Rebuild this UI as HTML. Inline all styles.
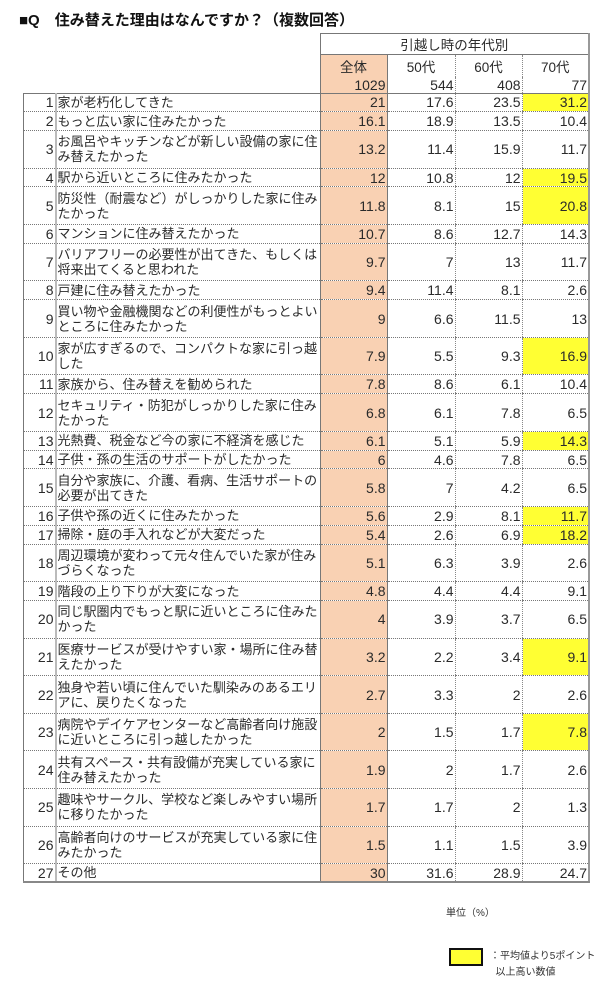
<!DOCTYPE html>
<html><head><meta charset="utf-8"><style>
body{margin:0;width:612px;height:1000px;background:#fff;position:relative;font-family:"Liberation Sans","Noto Sans CJK JP",sans-serif;color:#2a2a2a;}
.title{position:absolute;left:19px;top:9px;font-size:15px;font-weight:bold;color:#111;}
table{position:absolute;left:23px;top:33px;border-collapse:collapse;table-layout:fixed;font-size:12.6px;}
td{padding:0 2px;overflow:hidden;white-space:nowrap;}
.n{width:28px;text-align:right;vertical-align:middle;border-left:1px solid #777;padding:0 1px 0 0;font-size:14px;}
.t{width:260px;text-align:left;line-height:15px;border-left:2px solid #bbb;padding-left:1px;vertical-align:middle;font-size:13px;}
.v{text-align:right;vertical-align:middle;border-left:1px dotted #888;padding:0 1px 0 0;line-height:16px;font-size:14px;}
.h{text-align:center;font-size:13.5px;}
.a{background:#f9d1b3;border-left:1px solid #777;border-right:1px solid #777;}
.l{border-right:2px solid #999;}
.y{background:#ffff33;}
tbody tr td{border-bottom:1px dotted #777;}
tbody tr.s{height:18.8px;}
tbody tr.d{height:37.6px;}
.last td{border-bottom:2px solid #888 !important;}
</style></head><body>
<div class="title">■Q　住み替えた理由はなんですか？（複数回答）</div>
<table>
<colgroup><col style="width:32px"><col style="width:264px"><col style="width:67px"><col style="width:68px"><col style="width:67px"><col style="width:67px"></colgroup>
<thead>
<tr style="height:19px"><td></td><td></td><td colspan="4" class="h" style="border:1px solid #777;border-right:2px solid #999;">引越し時の年代別</td></tr>
<tr style="height:22px"><td></td><td></td><td class="a h" style="border-top:1px solid #777;">全体</td><td class="h" style="border-top:1px solid #777;border-left:1px dotted #888;">50代</td><td class="h" style="border-top:1px solid #777;border-left:1px dotted #888;">60代</td><td class="l h" style="border-top:1px solid #777;border-left:1px dotted #888;">70代</td></tr>
<tr style="height:16px"><td></td><td></td><td class="v a">1029</td><td class="v">544</td><td class="v">408</td><td class="v l">77</td></tr>
</thead>
<tbody>
<tr class="s" style="border-top:1px solid #777"><td class="n">1</td><td class="t">家が老朽化してきた</td><td class="v a">21</td><td class="v">17.6</td><td class="v">23.5</td><td class="v l y">31.2</td></tr>
<tr class="s"><td class="n">2</td><td class="t">もっと広い家に住みたかった</td><td class="v a">16.1</td><td class="v">18.9</td><td class="v">13.5</td><td class="v l">10.4</td></tr>
<tr class="d"><td class="n">3</td><td class="t">お風呂やキッチンなどが新しい設備の家に住<br>み替えたかった</td><td class="v a">13.2</td><td class="v">11.4</td><td class="v">15.9</td><td class="v l">11.7</td></tr>
<tr class="s"><td class="n">4</td><td class="t">駅から近いところに住みたかった</td><td class="v a">12</td><td class="v">10.8</td><td class="v">12</td><td class="v l y">19.5</td></tr>
<tr class="d"><td class="n">5</td><td class="t">防災性（耐震など）がしっかりした家に住み<br>たかった</td><td class="v a">11.8</td><td class="v">8.1</td><td class="v">15</td><td class="v l y">20.8</td></tr>
<tr class="s"><td class="n">6</td><td class="t">マンションに住み替えたかった</td><td class="v a">10.7</td><td class="v">8.6</td><td class="v">12.7</td><td class="v l">14.3</td></tr>
<tr class="d"><td class="n">7</td><td class="t">バリアフリーの必要性が出てきた、もしくは<br>将来出てくると思われた</td><td class="v a">9.7</td><td class="v">7</td><td class="v">13</td><td class="v l">11.7</td></tr>
<tr class="s"><td class="n">8</td><td class="t">戸建に住み替えたかった</td><td class="v a">9.4</td><td class="v">11.4</td><td class="v">8.1</td><td class="v l">2.6</td></tr>
<tr class="d"><td class="n">9</td><td class="t">買い物や金融機関などの利便性がもっとよい<br>ところに住みたかった</td><td class="v a">9</td><td class="v">6.6</td><td class="v">11.5</td><td class="v l">13</td></tr>
<tr class="d"><td class="n">10</td><td class="t">家が広すぎるので、コンパクトな家に引っ越<br>した</td><td class="v a">7.9</td><td class="v">5.5</td><td class="v">9.3</td><td class="v l y">16.9</td></tr>
<tr class="s"><td class="n">11</td><td class="t">家族から、住み替えを勧められた</td><td class="v a">7.8</td><td class="v">8.6</td><td class="v">6.1</td><td class="v l">10.4</td></tr>
<tr class="d"><td class="n">12</td><td class="t">セキュリティ・防犯がしっかりした家に住み<br>たかった</td><td class="v a">6.8</td><td class="v">6.1</td><td class="v">7.8</td><td class="v l">6.5</td></tr>
<tr class="s"><td class="n">13</td><td class="t">光熱費、税金など今の家に不経済を感じた</td><td class="v a">6.1</td><td class="v">5.1</td><td class="v">5.9</td><td class="v l y">14.3</td></tr>
<tr class="s"><td class="n">14</td><td class="t">子供・孫の生活のサポートがしたかった</td><td class="v a">6</td><td class="v">4.6</td><td class="v">7.8</td><td class="v l">6.5</td></tr>
<tr class="d"><td class="n">15</td><td class="t">自分や家族に、介護、看病、生活サポートの<br>必要が出てきた</td><td class="v a">5.8</td><td class="v">7</td><td class="v">4.2</td><td class="v l">6.5</td></tr>
<tr class="s"><td class="n">16</td><td class="t">子供や孫の近くに住みたかった</td><td class="v a">5.6</td><td class="v">2.9</td><td class="v">8.1</td><td class="v l y">11.7</td></tr>
<tr class="s"><td class="n">17</td><td class="t">掃除・庭の手入れなどが大変だった</td><td class="v a">5.4</td><td class="v">2.6</td><td class="v">6.9</td><td class="v l y">18.2</td></tr>
<tr class="d"><td class="n">18</td><td class="t">周辺環境が変わって元々住んでいた家が住み<br>づらくなった</td><td class="v a">5.1</td><td class="v">6.3</td><td class="v">3.9</td><td class="v l">2.6</td></tr>
<tr class="s"><td class="n">19</td><td class="t">階段の上り下りが大変になった</td><td class="v a">4.8</td><td class="v">4.4</td><td class="v">4.4</td><td class="v l">9.1</td></tr>
<tr class="d"><td class="n">20</td><td class="t">同じ駅圏内でもっと駅に近いところに住みた<br>かった</td><td class="v a">4</td><td class="v">3.9</td><td class="v">3.7</td><td class="v l">6.5</td></tr>
<tr class="d"><td class="n">21</td><td class="t">医療サービスが受けやすい家・場所に住み替<br>えたかった</td><td class="v a">3.2</td><td class="v">2.2</td><td class="v">3.4</td><td class="v l y">9.1</td></tr>
<tr class="d"><td class="n">22</td><td class="t">独身や若い頃に住んでいた馴染みのあるエリ<br>アに、戻りたくなった</td><td class="v a">2.7</td><td class="v">3.3</td><td class="v">2</td><td class="v l">2.6</td></tr>
<tr class="d"><td class="n">23</td><td class="t">病院やデイケアセンターなど高齢者向け施設<br>に近いところに引っ越したかった</td><td class="v a">2</td><td class="v">1.5</td><td class="v">1.7</td><td class="v l y">7.8</td></tr>
<tr class="d"><td class="n">24</td><td class="t">共有スペース・共有設備が充実している家に<br>住み替えたかった</td><td class="v a">1.9</td><td class="v">2</td><td class="v">1.7</td><td class="v l">2.6</td></tr>
<tr class="d"><td class="n">25</td><td class="t">趣味やサークル、学校など楽しみやすい場所<br>に移りたかった</td><td class="v a">1.7</td><td class="v">1.7</td><td class="v">2</td><td class="v l">1.3</td></tr>
<tr class="d"><td class="n">26</td><td class="t">高齢者向けのサービスが充実している家に住<br>みたかった</td><td class="v a">1.5</td><td class="v">1.1</td><td class="v">1.5</td><td class="v l">3.9</td></tr>
<tr class="s last"><td class="n">27</td><td class="t">その他</td><td class="v a">30</td><td class="v">31.6</td><td class="v">28.9</td><td class="v l">24.7</td></tr>
</tbody>
</table>
<div style="position:absolute;left:446px;top:904px;font-size:10px;color:#333;">単位（%）</div>
<div style="position:absolute;left:449px;top:948px;width:30px;height:14px;background:#ffff33;border:2px solid #111;"></div>
<div style="position:absolute;left:490px;top:949px;font-size:10px;line-height:16px;color:#333;">：平均値より5ポイント<br>&nbsp;&nbsp;以上高い数値</div>
</body></html>
